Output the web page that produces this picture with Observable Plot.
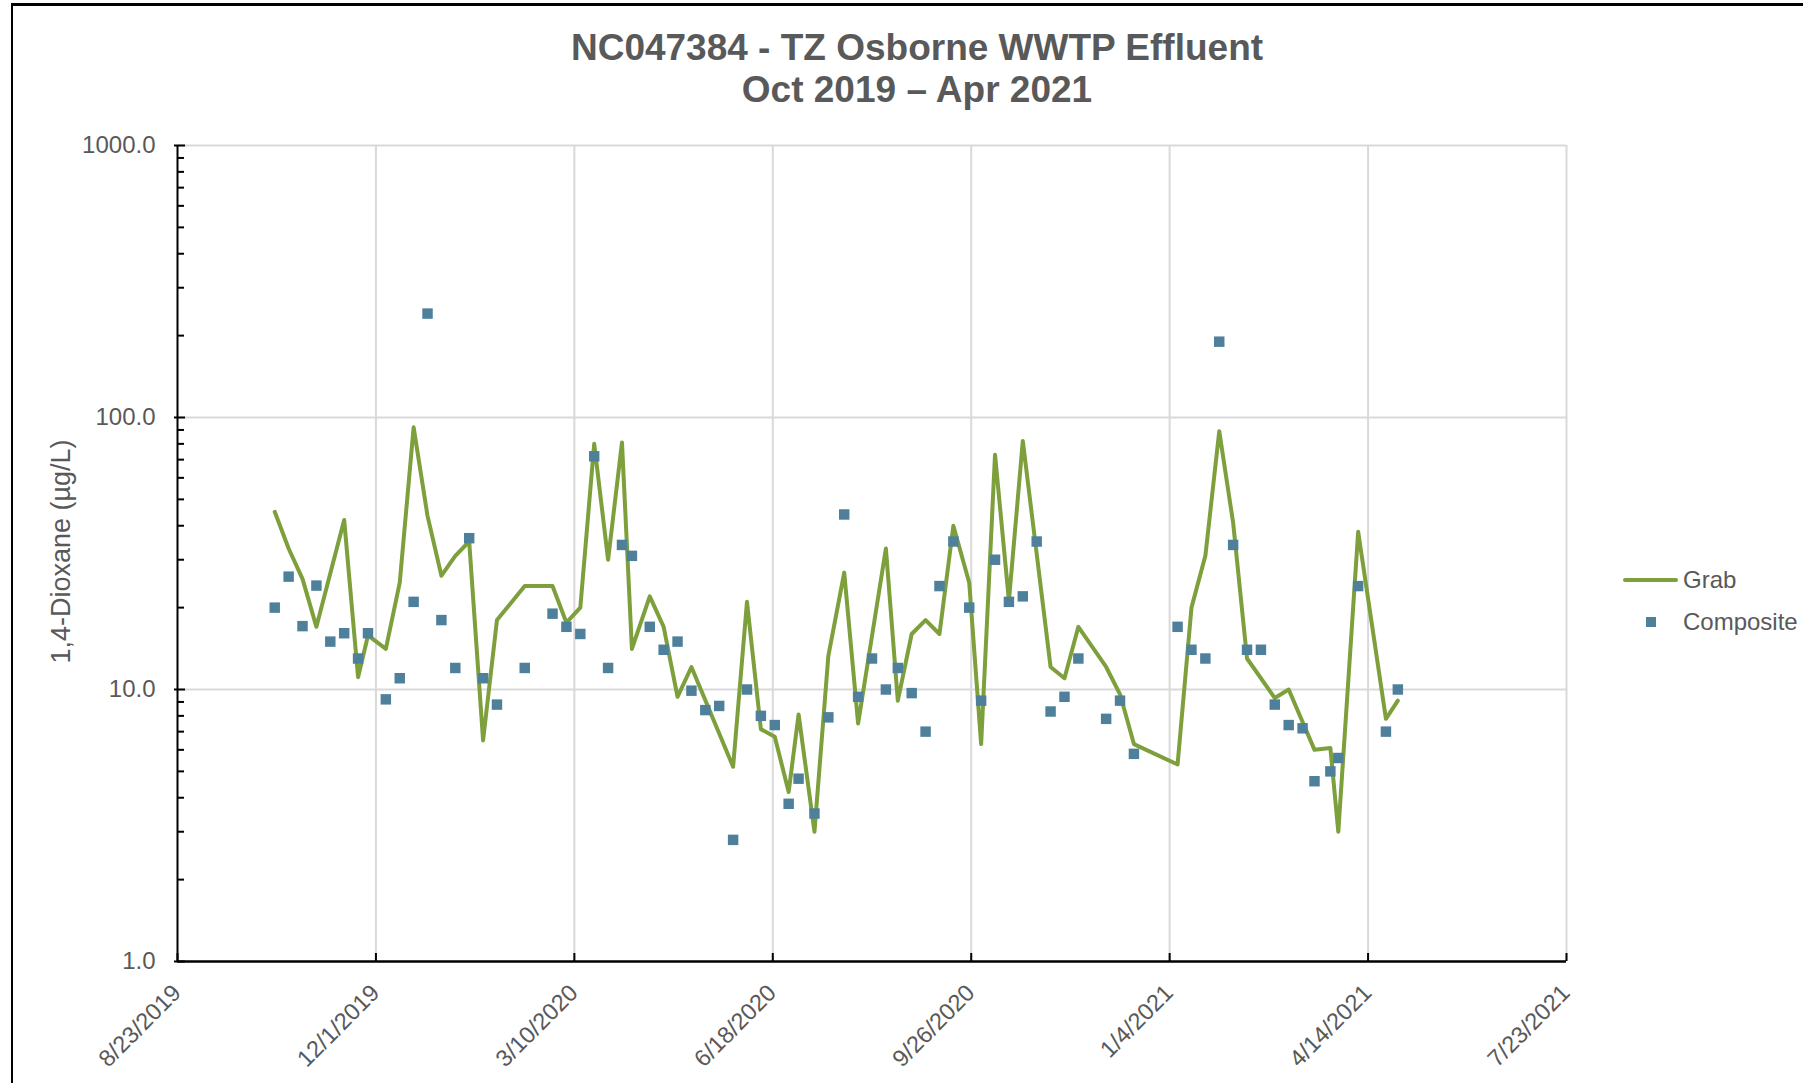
<!DOCTYPE html>
<html>
<head>
<meta charset="utf-8">
<script src="https://cdn.jsdelivr.net/npm/d3@7"></script>
<script src="https://cdn.jsdelivr.net/npm/@observablehq/plot@0.6"></script>
<style>
  html, body { margin: 0; padding: 0; background: #fff; }
  body { font-family: "Liberation Sans", Arial, sans-serif; }
  #wrap { position: relative; width: 1803px; height: 1083px; overflow: hidden; background: #fff; }
  #frame { position: absolute; left: 11px; top: 3px; width: 1900px; height: 1200px;
           border-top: 3px solid #000; border-left: 2px solid #000; box-sizing: border-box; }
  #title { position: absolute; left: 0; top: 27px; width: 1834px; text-align: center;
           font-weight: bold; font-size: 37px; line-height: 42px; color: #595959; }
  #chart { position: absolute; left: 0; top: 110px; }
  .lg-text { position: absolute; font-size: 24px; color: #595959; line-height: 26px; }
  .lg-line { position: absolute; height: 4px; border-radius: 2px; }
  .lg-sq { position: absolute; width: 10px; height: 10px; }
</style>
</head>
<body>
<div id="wrap">
  <div id="frame"></div>
  <div id="title">NC047384 - TZ Osborne WWTP Effluent<br>Oct 2019 – Apr 2021</div>
  <div id="chart"></div>
  <div class="lg-line" style="left:1623px; top:578px; width:55px; background:#7d9f3c;"></div>
  <div class="lg-text" style="left:1683px; top:567px;">Grab</div>
  <div class="lg-sq" style="left:1646px; top:617px; background:#4e809b;"></div>
  <div class="lg-text" style="left:1683px; top:609px;">Composite</div>
</div>
<script>
// ---------- data ----------
const grabDates = [
  "2019-10-11","2019-10-18","2019-10-25","2019-11-01","2019-11-15","2019-11-22","2019-11-27",
  "2019-12-06","2019-12-13","2019-12-20","2019-12-27","2020-01-03","2020-01-10","2020-01-17",
  "2020-01-24","2020-01-31","2020-02-14","2020-02-28","2020-03-06","2020-03-13","2020-03-20",
  "2020-03-27","2020-04-03","2020-04-08","2020-04-17","2020-04-24","2020-05-01","2020-05-08",
  "2020-05-29","2020-06-05","2020-06-12","2020-06-19","2020-06-26","2020-07-01","2020-07-09",
  "2020-07-16","2020-07-24","2020-07-31","2020-08-14","2020-08-20","2020-08-27","2020-09-03",
  "2020-09-10","2020-09-17","2020-09-25","2020-10-01","2020-10-08","2020-10-15","2020-10-22",
  "2020-11-05","2020-11-12","2020-11-19","2020-12-03","2020-12-10","2020-12-17","2021-01-08",
  "2021-01-15","2021-01-22","2021-01-29","2021-02-05","2021-02-12","2021-02-26","2021-03-05",
  "2021-03-18","2021-03-26","2021-03-30","2021-04-09","2021-04-23","2021-04-29"
];
const grabValues = [
  45, 33, 25.5, 17, 42, 11.1, 15.8,
  14.1, 24.7, 92, 43.5, 26.2, 31, 35,
  6.5, 18, 24, 24, 17.6, 20, 80,
  30, 81, 14.1, 22, 17, 9.4, 12.1,
  5.2, 21, 7.15, 6.7, 4.2, 8.1, 3.0,
  13.3, 26.9, 7.5, 33, 9.1, 16, 18,
  16, 40, 24.7, 6.3, 73, 21.2, 82,
  12.1, 11, 17, 12.1, 9.6, 6.3, 5.3,
  20, 31, 89, 41, 13, 9.3, 10,
  6.0, 6.1, 3.0, 38, 7.8, 9.1
];
const compDates = [
  "2019-10-11","2019-10-18","2019-10-25","2019-11-01","2019-11-08","2019-11-15","2019-11-22",
  "2019-11-27","2019-12-06","2019-12-13","2019-12-20","2019-12-27","2020-01-03","2020-01-10",
  "2020-01-17","2020-01-24","2020-01-31","2020-02-14","2020-02-28","2020-03-06","2020-03-13",
  "2020-03-20","2020-03-27","2020-04-03","2020-04-08","2020-04-17","2020-04-24","2020-05-01",
  "2020-05-08","2020-05-15","2020-05-22","2020-05-29","2020-06-05","2020-06-12","2020-06-19",
  "2020-06-26","2020-07-01","2020-07-09","2020-07-16","2020-07-24","2020-07-31","2020-08-07",
  "2020-08-14","2020-08-20","2020-08-27","2020-09-03","2020-09-10","2020-09-17","2020-09-25",
  "2020-10-01","2020-10-08","2020-10-15","2020-10-22","2020-10-29","2020-11-05","2020-11-12",
  "2020-11-19","2020-12-03","2020-12-10","2020-12-17","2021-01-08","2021-01-15","2021-01-22",
  "2021-01-29","2021-02-05","2021-02-12","2021-02-19","2021-02-26","2021-03-05","2021-03-12",
  "2021-03-18","2021-03-26","2021-03-30","2021-04-09","2021-04-23","2021-04-29"
];
const compValues = [
  20, 26, 17.1, 24.1, 15, 16.1, 13,
  16.1, 9.2, 11, 21, 241, 18, 12,
  36, 11, 8.8, 12, 19, 17, 16,
  72, 12, 34, 31, 17, 14, 15,
  9.9, 8.4, 8.7, 2.8, 10, 8.0, 7.4,
  3.8, 4.7, 3.5, 7.9, 44, 9.4, 13,
  10, 12, 9.7, 7.0, 24, 35, 20,
  9.1, 30, 21, 22, 35, 8.3, 9.4,
  13, 7.8, 9.1, 5.8, 17, 14, 13,
  190, 34, 14, 14, 8.8, 7.4, 7.2,
  4.6, 5.0, 5.6, 24, 7.0, 10
];
const xTickLabels = ["8/23/2019","12/1/2019","3/10/2020","6/18/2020","9/26/2020","1/4/2021","4/14/2021","7/23/2021"];
const yTickValues = [1, 10, 100, 1000];
const yTickLabels = ["1.0", "10.0", "100.0", "1000.0"];
const yAxisTitle = "1,4-Dioxane (µg/L)";

// ---------- build ----------
const parseISO = d3.utcParse("%Y-%m-%d");
const parseUS = d3.utcParse("%m/%d/%Y");
const grab = grabDates.map((d, i) => ({date: parseISO(d), value: grabValues[i]}));
const comp = compDates.map((d, i) => ({date: parseISO(d), value: compValues[i]}));
const xTicks = xTickLabels.map((s) => ({date: parseUS(s), label: s}));
const yTicks = yTickValues.map((v, i) => ({value: v, label: yTickLabels[i]}));
const xStart = xTicks[0].date, xEnd = xTicks[xTicks.length - 1].date;
const minorY = [];
for (const dec of [1, 10, 100]) for (let k = 2; k <= 9; k++) minorY.push(dec * k);

const green = "#7d9f3c", blue = "#4e809b", grid = "#d9d9d9", txt = "#595959";

const chart = Plot.plot({
  width: 1803,
  height: 973,
  marginLeft: 177,
  marginRight: 237,
  marginTop: 35,
  marginBottom: 122,
  style: {fontFamily: "'Liberation Sans', Arial, sans-serif", fontSize: "24px", color: txt, background: "transparent"},
  x: {type: "utc", domain: [xStart, xEnd], axis: null},
  y: {type: "log", domain: [1, 1000], axis: null},
  marks: [
    // gridlines
    Plot.ruleY(yTicks.slice(1), {y: "value", stroke: grid, strokeWidth: 2}),
    Plot.ruleX(xTicks.slice(1), {x: "date", stroke: grid, strokeWidth: 2}),
    // data
    Plot.line(grab, {x: "date", y: "value", stroke: green, strokeWidth: 4, strokeLinejoin: "round", strokeLinecap: "round"}),
    Plot.dot(comp, {x: "date", y: "value", symbol: "square", r: 5.9, fill: blue, stroke: "none"}),
    // axis lines
    Plot.ruleX([xStart], {x: d => d, stroke: "#000", strokeWidth: 2}),
    Plot.ruleY([1], {y: d => d, stroke: "#000", strokeWidth: 2.6}),
    // y ticks (inside)
    Plot.ruleY(yTicks, {y: "value", x1: xStart, x2: xStart, insetLeft: -3, insetRight: -8, stroke: "#000", strokeWidth: 2}),
    Plot.ruleY(minorY, {y: d => d, x1: xStart, x2: xStart, insetRight: -7, stroke: "#000", strokeWidth: 2}),
    // x ticks (inside)
    Plot.ruleX(xTicks, {x: "date", y1: 1, y2: 1, insetTop: -8, stroke: "#000", strokeWidth: 2}),
    // tick labels
    Plot.text(yTicks, {y: "value", text: "label", frameAnchor: "left", textAnchor: "end", dx: -22, fill: txt, fontSize: 24}),
    Plot.text(xTicks, {x: "date", text: "label", frameAnchor: "bottom", rotate: -45, textAnchor: "end", lineAnchor: "top", dx: -7, dy: 21, fill: txt, fontSize: 23.5}),
    // y axis title
    Plot.text([yAxisTitle], {text: d => d, frameAnchor: "left", rotate: -90, textAnchor: "middle", lineAnchor: "middle", dx: -116, dy: -2, fill: txt, fontSize: 27})
  ]
});
document.getElementById("chart").appendChild(chart);
</script>
</body>
</html>
